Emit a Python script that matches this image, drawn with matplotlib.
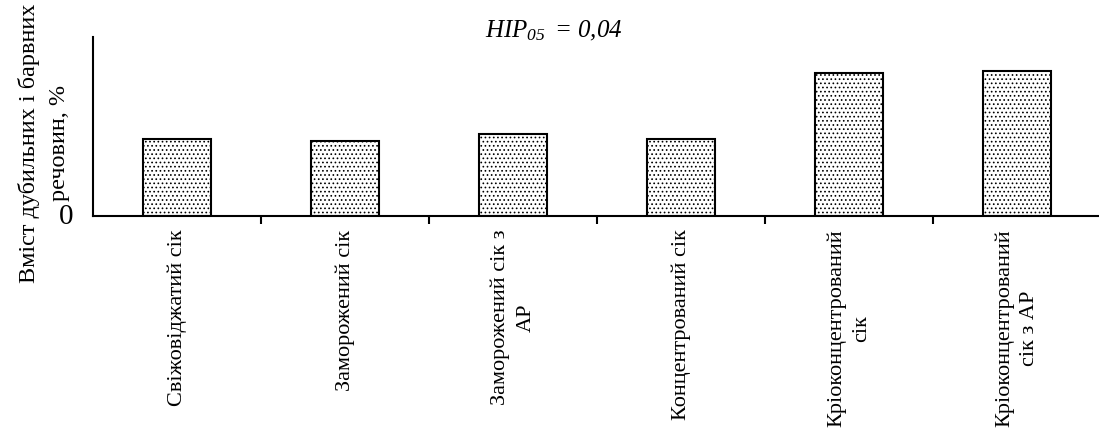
import matplotlib
matplotlib.use("Agg")
from matplotlib import pyplot as plt

plt.rcParams["font.family"] = ["Liberation Serif", "DejaVu Serif"]
plt.rcParams["mathtext.fontset"] = "custom"
plt.rcParams["mathtext.it"] = "Liberation Serif:italic"
plt.rcParams["mathtext.rm"] = "Liberation Serif:italic"
plt.rcParams["mathtext.default"] = "it"
plt.rcParams["hatch.color"] = "#b4b4b4"
plt.rcParams["hatch.linewidth"] = 0.7

categories = ["Свіжовіджатий сік", "Заморожений сік", "Заморожений сік з\nАР",
              "Концентрований сік", "Кріоконцентрований\nсік", "Кріоконцентрований\nсік з АР"]
values = [0.215, 0.21, 0.229, 0.215, 0.40, 0.405]
ylabel_lines = ["Вміст дубильних і барвних", "речовин, %"]
title = r"$HIP_{05}\,$ = 0,04"

fig = plt.figure(figsize=(10.99, 4.39), dpi=100)
ax = fig.add_axes([93 / 1099, 222 / 439, 1008 / 1099, 179 / 439])

x = list(range(len(categories)))
ax.bar(x, values, width=0.41, color="white", edgecolor="black", linewidth=1.5, hatch="....")

ax.set_xlim(-0.5, len(categories) - 0.5)
ax.set_ylim(0, 0.5)
ax.spines["top"].set_visible(False)
ax.spines["right"].set_visible(False)
ax.spines["left"].set_linewidth(1.5)
ax.spines["bottom"].set_linewidth(1.5)
ax.set_yticks([])

ax.set_xticks([i + 0.5 for i in x[:-1]])
ax.set_xticklabels([])
ax.tick_params(axis="x", direction="out", length=6, width=1.5)

for i, lab in zip(x, categories):
    ax.text(i, -0.035, lab, rotation=90, ha="center", va="top", fontsize=16,
            multialignment="center", linespacing=1.45)

fig.text(66 / 1099, 1 - 217 / 439, "0", ha="center", va="center", fontsize=21)
# y label as two separate lines, as in the source
fig.text(29 / 1099, 1 - 143 / 439, ylabel_lines[0], rotation=90, ha="center", va="center", fontsize=17.5)
fig.text(60 / 1099, 1 - 143 / 439, ylabel_lines[1], rotation=90, ha="center", va="center", fontsize=17.5)
fig.text(554 / 1099, 1 - 31 / 439, title, ha="center", va="center", fontsize=18, style="italic")

fig.savefig("out.png", dpi=100)
